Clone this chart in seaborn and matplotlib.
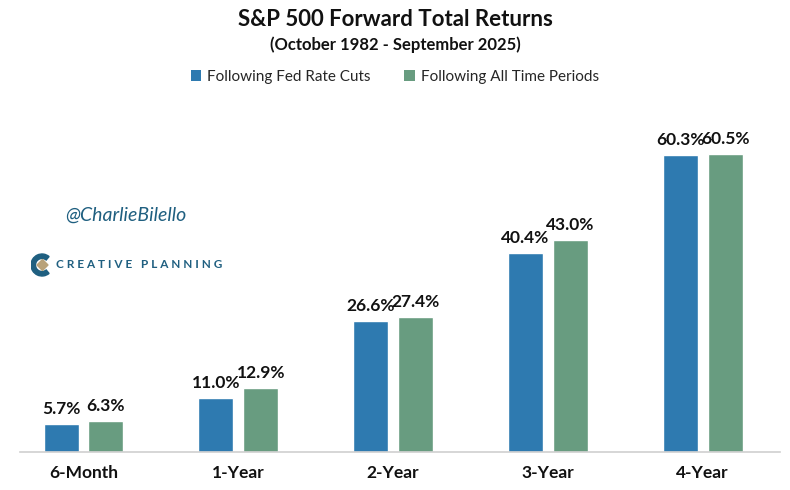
import matplotlib
matplotlib.use("Agg")
import matplotlib.pyplot as plt
import seaborn as sns
import pandas as pd
from matplotlib.patches import Patch, Wedge, Polygon

periods = ["6-Month", "1-Year", "2-Year", "3-Year", "4-Year"]
fed_cuts = [5.7, 11.0, 26.6, 40.4, 60.3]
all_periods = [6.3, 12.9, 27.4, 43.0, 60.5]
series_names = ["Following Fed Rate Cuts", "Following All Time Periods"]
colors = ["#2E7AB0", "#689C80"]

df = pd.DataFrame({
    "Period": periods * 2,
    "Return": fed_cuts + all_periods,
    "Series": [series_names[0]] * len(periods) + [series_names[1]] * len(periods),
})

sns.set_theme(style="white")
plt.rcParams["font.family"] = ["Lato", "DejaVu Sans"]

fig = plt.figure(figsize=(7.9, 4.9), dpi=100)
ax = fig.add_axes([20 / 790, 1 - 452 / 490, 760 / 790, 347 / 490])

sns.barplot(data=df, x="Period", y="Return", hue="Series", palette=colors,
            width=0.58, gap=0.22, ax=ax, legend=False, saturation=1)

for container in ax.containers:
    ax.bar_label(container, labels=[f"{v:.1f}%" for v in container.datavalues],
                 padding=5, fontsize=12.5, fontweight="bold", color="#111111")

ax.set_xlim(-0.41, 4.5)
ax.set_ylim(0, 70.4)
ax.set_xlabel("")
ax.set_ylabel("")
ax.set_yticks([])
for s in ["top", "right", "left"]:
    ax.spines[s].set_visible(False)
ax.spines["bottom"].set_color("#D0D0D0")
ax.spines["bottom"].set_linewidth(1.2)
ax.tick_params(axis="x", length=0, pad=9)
for lbl in ax.get_xticklabels():
    lbl.set_fontweight("bold")
    lbl.set_fontsize(12.5)
    lbl.set_color("#111111")

fig.text(0.5, 1 - 19 / 490, "S&P 500 Forward Total Returns", ha="center", va="center",
         fontsize=16, fontweight="bold", color="#111111")
fig.text(0.5, 1 - 45 / 490, "(October 1982 - September 2025)", ha="center", va="center",
         fontsize=12, fontweight="bold", color="#111111")

handles = [Patch(facecolor=c, edgecolor="none") for c in colors]
fig.legend(handles, series_names, loc="center", bbox_to_anchor=(0.5, 1 - 77 / 490),
           ncol=2, frameon=False, fontsize=11, handlelength=0.7, handleheight=0.7,
           handletextpad=0.4, columnspacing=2.2)

fig.text(65 / 790, 1 - 215 / 490, "@CharlieBilello", ha="left", va="center",
         fontsize=14, fontstyle="italic", color="#1F5F80")

# Creative Planning logo mark
logo = fig.add_axes([31 / 790, 1 - 277 / 490, 22 / 790, 24 / 490])
logo.set_xlim(-1.1, 1.1)
logo.set_ylim(-1.2, 1.2)
logo.set_aspect("equal")
logo.axis("off")
logo.add_patch(Wedge((0, 0), 1.1, 50, 310, width=0.45, color="#1F5F80"))
logo.add_patch(Polygon([(0.05, 0.55), (0.6, 0), (0.05, -0.55), (-0.5, 0)],
                       closed=True, color="#B8A27A"))

fig.text(56 / 790, 1 - 264 / 490, "C R E A T I V E   P L A N N I N G", ha="left", va="center",
         fontsize=8.5, fontweight="bold", color="#1F5F80")

fig.savefig("out.png", dpi=100)
